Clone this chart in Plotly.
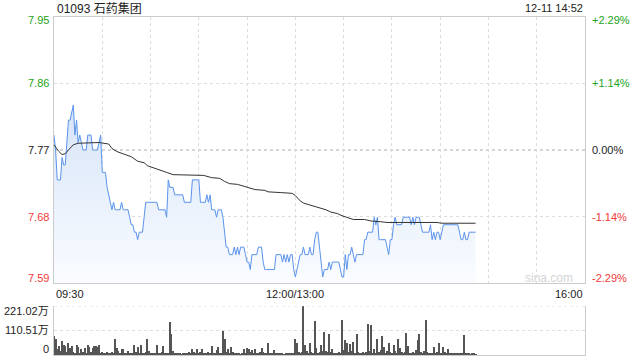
import plotly.graph_objects as go

# ---------------- data ----------------
title_text = "01093 石药集团"
stamp_text = "12-11 14:52"
prev_close = 7.77

price = [
    7.79, 7.77, 7.73, 7.73, 7.73, 7.76, 7.75, 7.75, 7.78, 7.81,
    7.81, 7.82, 7.83, 7.79, 7.81, 7.78, 7.79, 7.78, 7.77, 7.77,
    7.77, 7.79, 7.79, 7.79, 7.77, 7.77, 7.77, 7.77, 7.78, 7.79,
    7.74, 7.74, 7.74, 7.72, 7.71, 7.70, 7.69, 7.70, 7.69, 7.69,
    7.69, 7.69, 7.70, 7.69, 7.69, 7.69, 7.69, 7.68, 7.67, 7.67,
    7.66, 7.66, 7.65, 7.66, 7.66, 7.66, 7.68, 7.70, 7.70, 7.70,
    7.70, 7.70, 7.70, 7.70, 7.70, 7.69, 7.69, 7.69, 7.69, 7.69,
    7.68, 7.73, 7.72, 7.72, 7.72, 7.71, 7.71, 7.71, 7.71, 7.71,
    7.71, 7.70, 7.70, 7.70, 7.70, 7.70, 7.73, 7.73, 7.73, 7.73,
    7.73, 7.70, 7.70, 7.70, 7.70, 7.71, 7.70, 7.71, 7.69, 7.69,
    7.69, 7.68, 7.69, 7.69, 7.69, 7.68, 7.66, 7.64, 7.64, 7.63,
    7.63, 7.63, 7.64, 7.63, 7.64, 7.63, 7.64, 7.64, 7.64, 7.63,
    7.62, 7.62, 7.61, 7.63, 7.63, 7.63, 7.63, 7.64, 7.64, 7.64,
    7.62, 7.61, 7.61, 7.61, 7.61, 7.61, 7.61, 7.61, 7.63, 7.63,
    7.63, 7.63, 7.62, 7.63, 7.62, 7.63, 7.62, 7.63, 7.63, 7.61,
    7.60, 7.61, 7.62, 7.63, 7.63, 7.64, 7.63, 7.63, 7.63, 7.64,
    7.63, 7.63, 7.65, 7.66, 7.66, 7.64, 7.62, 7.60, 7.61, 7.61,
    7.61, 7.62, 7.61, 7.62, 7.62, 7.62, 7.62, 7.62, 7.61, 7.60,
    7.60, 7.63, 7.61, 7.63, 7.63, 7.64, 7.63, 7.62, 7.63, 7.63,
    7.63, 7.63, 7.63, 7.65, 7.65, 7.66, 7.66, 7.66, 7.66, 7.68,
    7.67, 7.68, 7.65, 7.65, 7.65, 7.65, 7.65, 7.64, 7.63, 7.65,
    7.65, 7.67, 7.68, 7.67, 7.67, 7.67, 7.67, 7.68, 7.68, 7.68,
    7.68, 7.68, 7.67, 7.68, 7.67, 7.68, 7.68, 7.68, 7.67, 7.66,
    7.66, 7.66, 7.66, 7.66, 7.67, 7.65, 7.66, 7.65, 7.66, 7.66,
    7.65, 7.66, 7.67, 7.67, 7.67, 7.67, 7.67, 7.67, 7.67, 7.67,
    7.67, 7.67, 7.66, 7.65, 7.65, 7.66, 7.65, 7.65, 7.66, 7.66,
    7.66, 7.66, 7.66,
]

avg_minute = [0, 3, 5, 7, 9, 12, 15, 22, 28, 34, 36, 39, 45, 48, 52, 56, 58, 64, 70, 74,
              80, 88, 93, 98, 103, 106, 109, 114, 120, 125, 131, 133, 141, 148, 150, 153,
              155, 160, 165, 169, 172, 176, 179, 182, 186, 193, 197, 203, 207, 238, 241, 262]
avg_price = [7.777, 7.768, 7.764, 7.765, 7.770, 7.777, 7.779, 7.780, 7.780, 7.778,
             7.772, 7.768, 7.763, 7.761, 7.755, 7.753, 7.749, 7.745, 7.740, 7.737,
             7.737, 7.736, 7.736, 7.733, 7.732, 7.728, 7.725, 7.724, 7.720, 7.717,
             7.716, 7.714, 7.713, 7.712, 7.709, 7.702, 7.699, 7.696, 7.693, 7.690,
             7.687, 7.685, 7.682, 7.680, 7.677, 7.677, 7.675, 7.674, 7.673, 7.673,
             7.672, 7.672]

volume_wan = [
    84, 74, 25, 41, 18, 62, 44, 41, 15, 53,
    32, 40, 12, 8, 44, 37, 10, 29, 14, 32,
    9, 44, 37, 12, 32, 41, 41, 36, 44, 10,
    15, 6, 8, 12, 5, 9, 14, 7, 71, 32,
    20, 8, 28, 26, 10, 6, 18, 7, 5, 9,
    44, 12, 37, 8, 44, 10, 6, 14, 71, 20,
    8, 5, 9, 7, 47, 10, 6, 12, 41, 8,
    5, 6, 147, 96, 18, 8, 5, 9, 6, 4,
    7, 10, 5, 6, 12, 8, 29, 14, 9, 27,
    7, 12, 29, 8, 10, 6, 15, 9, 41, 11,
    7, 24, 37, 10, 6, 110, 71, 15, 29, 9,
    37, 12, 8, 5, 9, 6, 4, 7, 25, 10,
    32, 28, 14, 22, 9, 28, 6, 8, 15, 30,
    12, 7, 9, 56, 10, 6, 8, 22, 9, 5,
    7, 8, 6, 4, 7, 9, 5, 6, 8, 10,
    71, 52, 12, 8, 14, 221, 44, 18, 10, 56,
    12, 9, 155, 32, 10, 14, 47, 16, 106, 18,
    12, 96, 15, 27, 9, 6, 8, 12, 7, 159,
    22, 66, 52, 14, 49, 20, 59, 10, 96, 12,
    7, 9, 14, 8, 12, 140, 18, 136, 10, 25,
    9, 71, 14, 22, 84, 37, 10, 18, 52, 12,
    8, 47, 16, 9, 71, 32, 12, 8, 14, 100,
    40, 10, 7, 12, 9, 22, 66, 93, 15, 9,
    20, 159, 12, 8, 10, 6, 37, 9, 14, 52,
    10, 8, 37, 12, 7, 27, 9, 6, 10, 5,
    8, 7, 6, 9, 5, 88, 8, 5, 7, 4,
    6, 5, 4,
]

price_tick_values = [7.948, 7.8586, 7.77, 7.6814, 7.592]
price_tick_labels = ["7.95", "7.86", "7.77", "7.68", "7.59"]
pct_tick_labels = ["+2.29%", "+1.14%", "0.00%", "-1.14%", "-2.29%"]
vol_tick_values = [221.02, 110.51, 0]
vol_tick_labels = ["221.02万", "110.51万", "0"]
time_tick_minutes = [0, 150, 330]
time_tick_labels = ["09:30", "12:00/13:00", "16:00"]
session_minutes = 330
grid_minutes = list(range(0, 331, 30))

# ---------------- style ----------------
W, H = 640, 360
PL, PR = 54, 585          # plot left/right pixels
MT, MB = 17, 283          # main plot top/bottom pixels
VT, VB = 306, 355         # volume plot top/bottom pixels
FONT = "Arial, Liberation Sans, Noto Sans CJK SC, sans-serif"
GREEN = "#22a322"
RED = "#f23a3a"
BLACK = "#222222"
BORDER = "#cccccc"
GRID = "#dddddd"

def px(x):
    return x / W

def py(y):
    return 1 - y / H

minutes = list(range(len(price)))

fig = go.Figure()

fig.add_trace(go.Scatter(
    x=minutes, y=price, mode="lines",
    line=dict(color="#5a93ec", width=1),
    fill="tozeroy",
    fillgradient=dict(type="vertical",
                      colorscale=[[0, "rgba(250,252,255,1)"], [1, "rgba(214,228,248,1)"]],
                      start=7.592, stop=7.83),
    xaxis="x", yaxis="y", hoverinfo="skip", showlegend=False,
))
fig.add_trace(go.Scatter(
    x=avg_minute, y=avg_price, mode="lines",
    line=dict(color="#333333", width=1),
    xaxis="x", yaxis="y", hoverinfo="skip", showlegend=False,
))
fig.add_trace(go.Bar(
    x=minutes, y=volume_wan, width=0.62,
    marker=dict(color="#555555", line=dict(width=0)),
    xaxis="x2", yaxis="y2", hoverinfo="skip", showlegend=False,
))

xdom = [px(PL), px(PR)]
fig.update_layout(
    width=W, height=H,
    margin=dict(l=0, r=0, t=0, b=0),
    paper_bgcolor="white", plot_bgcolor="rgba(0,0,0,0)",
    bargap=0,
    xaxis=dict(domain=xdom, range=[0, session_minutes], anchor="y",
               tickvals=grid_minutes, showticklabels=False, ticks="",
               showgrid=True, gridcolor=GRID, griddash="dot", gridwidth=1,
               showline=True, mirror=True, linecolor=BORDER, linewidth=1,
               zeroline=False, fixedrange=True),
    yaxis=dict(domain=[py(MB), py(MT)], range=[price_tick_values[-1], price_tick_values[0]],
               anchor="x", tickvals=[price_tick_values[1], price_tick_values[3]],
               showticklabels=False, ticks="",
               showgrid=True, gridcolor=GRID, griddash="dot", gridwidth=1,
               showline=True, mirror=True, linecolor=BORDER, linewidth=1,
               zeroline=False, fixedrange=True),
    xaxis2=dict(domain=xdom, range=[0, session_minutes], anchor="y2",
                showticklabels=False, ticks="", showgrid=False,
                showline=True, mirror=False, linecolor=BORDER, linewidth=1,
                zeroline=False, fixedrange=True),
    yaxis2=dict(domain=[py(VB), py(VT)], range=[0, vol_tick_values[0]], anchor="x2",
                tickvals=[vol_tick_values[1]], showticklabels=False, ticks="",
                showgrid=True, gridcolor=GRID, griddash="dot", gridwidth=1,
                showline=True, mirror=True, linecolor=BORDER, linewidth=1,
                zeroline=False, fixedrange=True),
    font=dict(family=FONT, size=11, color=BLACK),
)

# top dotted border of volume panel and darker previous-close line
fig.add_shape(type="line", xref="paper", yref="y2", x0=xdom[0], x1=xdom[1],
              y0=vol_tick_values[0], y1=vol_tick_values[0],
              line=dict(color=GRID, width=1, dash="dot"), layer="above")
fig.add_shape(type="line", xref="paper", yref="y", x0=xdom[0], x1=xdom[1],
              y0=prev_close, y1=prev_close,
              line=dict(color="#aaaaaa", width=1, dash="dot"), layer="below")

ann = []
# price labels (left) and percent labels (right)
label_y_px = [20, 83, 150, 217, 278]
colors = [GREEN, GREEN, BLACK, RED, RED]
for lab, pct, yy, col in zip(price_tick_labels, pct_tick_labels, label_y_px, colors):
    ann.append(dict(text=lab, x=px(51), y=py(yy), xref="paper", yref="paper",
                    xanchor="right", yanchor="middle", showarrow=False,
                    font=dict(size=11, color=col, family=FONT)))
    ann.append(dict(text=pct, x=px(590), y=py(yy), xref="paper", yref="paper",
                    xanchor="left", yanchor="middle", showarrow=False,
                    font=dict(size=11, color=col, family=FONT)))
# volume labels
vol_label_y = [311, 330, 349]
for lab, yy in zip(vol_tick_labels, vol_label_y):
    ann.append(dict(text=lab, x=px(51), y=py(yy), xref="paper", yref="paper",
                    xanchor="right", yanchor="middle", showarrow=False,
                    font=dict(size=11, color=BLACK, family=FONT)))
# time labels
anchors = ["left", "center", "right"]
for m, lab, anc in zip(time_tick_minutes, time_tick_labels, anchors):
    xpix = PL + (PR - PL) * m / session_minutes
    ann.append(dict(text=lab, x=px(xpix), y=py(294), xref="paper", yref="paper",
                    xanchor=anc, yanchor="middle", showarrow=False,
                    font=dict(size=11, color=BLACK, family=FONT)))
# title and timestamp
ann.append(dict(text=title_text, x=px(55), y=py(8), xref="paper", yref="paper",
                xanchor="left", yanchor="middle", showarrow=False,
                font=dict(size=12, color=BLACK, family=FONT)))
ann.append(dict(text=stamp_text, x=px(585), y=py(8), xref="paper", yref="paper",
                xanchor="right", yanchor="middle", showarrow=False,
                font=dict(size=11, color=BLACK, family=FONT)))
# watermark
ann.append(dict(text="sina.com", x=px(575), y=py(278), xref="paper", yref="paper",
                xanchor="right", yanchor="middle", showarrow=False,
                font=dict(size=12, color="#d4d4d4", family=FONT)))
fig.update_layout(annotations=ann)

fig.write_html("out.html")
